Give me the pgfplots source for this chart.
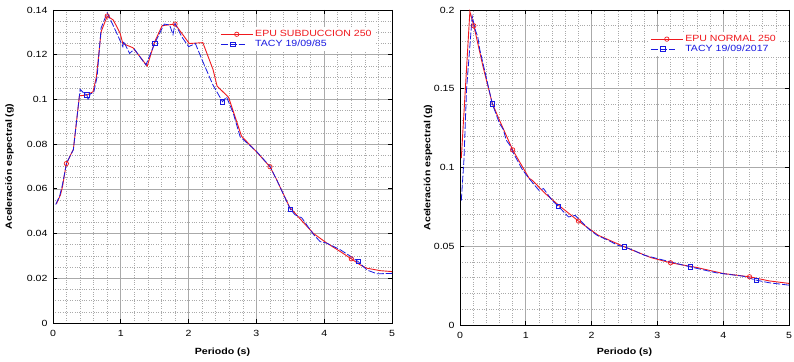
\documentclass[border=0pt]{standalone}
\usepackage{pgfplots}
\pgfplotsset{compat=1.18}
\usepackage{fontspec}
\setmainfont[FakeStretch=1.18]{Liberation Sans}
\definecolor{epared}{RGB}{240,25,30}
\definecolor{tacyblue}{RGB}{25,25,225}
\definecolor{gridgray}{RGB}{170,170,170}
\pgfplotsset{
  mystyle/.style={
    scale only axis,
    xmin=0, xmax=5,
    xtick={0,1,2,3,4,5},
    minor x tick num=4,
    grid=both,
    major grid style={gridgray, line width=0.7pt},
    minor grid style={gridgray, dotted, line width=0.6pt},
    tick align=inside,
    major tick length=4bp,
    minor tick length=0pt,
    tick style={black, line width=0.8pt},
    axis line style={black, line width=0.8pt},
    ticklabel style={font=\fontsize{9}{10}\selectfont},
    xticklabel style={yshift=-4bp},
    yticklabel style={xshift=-2bp},
    /pgf/number format/assume math mode=true,
    /pgf/number format/fixed,
    label style={font=\bfseries\fontsize{9}{10}\selectfont},
    xlabel={Periodo (s)},
    ylabel={Aceleración espectral (g)},
    legend cell align=left,
    legend style={draw=none, fill=white, inner sep=1pt, row sep=-2pt,
      font=\fontsize{9}{10}\selectfont, anchor=north west},
  },
  redline/.style={epared, line width=0.9pt, mark=o, mark size=2.2pt,
    mark options={solid, line width=0.7pt},
    legend image code/.code={\draw[##1,mark indices={2}] plot coordinates {(0bp,0bp) (16bp,0bp) (32bp,0bp)};}},
  blueline/.style={tacyblue, line width=0.8pt, dash pattern=on 7pt off 2pt, mark=square, mark size=2.2pt,
    mark options={solid, line width=0.7pt},
    legend image code/.code={\draw[##1,mark indices={2}] plot coordinates {(0bp,0bp) (12bp,0bp) (24bp,0bp)};}},
}
\begin{document}
\begin{tikzpicture}
\path[use as bounding box] (0,0) rectangle (794bp,362bp);
\begin{axis}[mystyle,
  at={(53bp,39bp)}, anchor=south west,
  width=339bp, height=313bp,
  ymin=0, ymax=0.14,
  ytick={0,0.02,0.04,0.06,0.08,0.1,0.12,0.14},
  minor y tick num=3,
  ylabel style={at={(axis description cs:-0.128,0.5)}, anchor=center},
  xlabel style={at={(axis description cs:0.5,-0.093)}, anchor=center},
  legend style={at={(0.49,0.945)}},
]
\addplot[redline, mark indices={4,11,19,27,34}] table {
x y
0.05 0.0533
0.11 0.0573
0.14 0.0610
0.197 0.0713
0.30 0.0776
0.39 0.1016
0.50 0.1020
0.59 0.1034
0.64 0.1101
0.71 0.1303
0.80 0.1373
0.89 0.1355
0.99 0.1296
1.03 0.1250
1.18 0.1231
1.39 0.1149
1.50 0.1258
1.61 0.1330
1.80 0.1337
2.01 0.1250
2.21 0.1254
2.36 0.1134
2.42 0.1060
2.59 0.1009
2.78 0.0836
3.00 0.0766
3.20 0.0699
3.30 0.0640
3.49 0.0518
3.65 0.0464
3.84 0.0401
4.04 0.0357
4.24 0.0319
4.40 0.0287
4.53 0.0260
4.63 0.0245
4.83 0.0234
5.00 0.0230
};
\addlegendentry[text=epared]{EPU SUBDUCCION 250}
\addplot[blueline, mark indices={8,21,32,39,47}] table {
x y
0.04 0.0530
0.10 0.0570
0.14 0.0620
0.20 0.0715
0.30 0.0775
0.40 0.1045
0.45 0.1030
0.50 0.1020
0.52 0.0997
0.55 0.1025
0.60 0.1030
0.65 0.1100
0.71 0.1320
0.80 0.1388
0.93 0.1303
1.03 0.1236
1.04 0.1260
1.13 0.1206
1.20 0.1225
1.37 0.1154
1.50 0.1250
1.64 0.1337
1.72 0.1333
1.77 0.1290
1.80 0.1340
1.90 0.1280
2.00 0.1236
2.10 0.1250
2.21 0.1169
2.36 0.1064
2.43 0.1027
2.50 0.0990
2.56 0.1011
2.66 0.0937
2.76 0.0833
3.00 0.0768
3.20 0.0700
3.30 0.0640
3.50 0.0509
3.57 0.0484
3.67 0.0470
3.84 0.0397
3.94 0.0364
4.04 0.0357
4.24 0.0327
4.38 0.0300
4.50 0.0275
4.63 0.0237
4.78 0.0220
5.00 0.0222
};
\addlegendentry[text=tacyblue]{TACY 19/09/85}
\end{axis}
\begin{axis}[mystyle,
  at={(460bp,37bp)}, anchor=south west,
  width=329bp, height=315bp,
  ymin=0, ymax=0.2,
  ytick={0,0.05,0.1,0.15,0.2},
  minor y tick num=4,
  ylabel style={at={(axis description cs:-0.097,0.5)}, anchor=center},
  xlabel style={at={(axis description cs:0.5,-0.086)}, anchor=center},
  legend style={at={(0.575,0.93)}},
]
\addplot[redline, mark indices={3,7,12,16,19}] table {
x y
0.02 0.1060
0.15 0.1990
0.21 0.1900
0.35 0.1640
0.49 0.1408
0.60 0.1300
0.80 0.1112
1.05 0.0932
1.10 0.0918
1.30 0.0833
1.50 0.0760
1.80 0.0660
2.10 0.0570
2.50 0.0496
2.90 0.0428
3.20 0.0395
3.60 0.0365
4.00 0.0327
4.40 0.0306
4.70 0.0280
5.00 0.0264
};
\addlegendentry[text=epared]{EPU NORMAL 250}
\addplot[blueline, mark indices={9,20,27,31,34}] table {
x y
0.02 0.0790
0.06 0.1050
0.10 0.1500
0.185 0.1960
0.235 0.1870
0.27 0.1830
0.30 0.1750
0.40 0.1570
0.49 0.1405
0.60 0.1280
0.66 0.1240
0.70 0.1175
0.76 0.1140
0.80 0.1100
0.95 0.0985
1.05 0.0930
1.20 0.0855
1.27 0.0866
1.40 0.0791
1.49 0.0755
1.65 0.0686
1.75 0.0696
1.95 0.0612
2.08 0.0570
2.23 0.0542
2.40 0.0506
2.50 0.0496
2.63 0.0475
2.80 0.0443
3.10 0.0411
3.50 0.0369
3.90 0.0331
4.30 0.0310
4.50 0.0285
4.70 0.0268
5.00 0.0253
};
\addlegendentry[text=tacyblue]{TACY 19/09/2017}
\end{axis}
\end{tikzpicture}
\end{document}
